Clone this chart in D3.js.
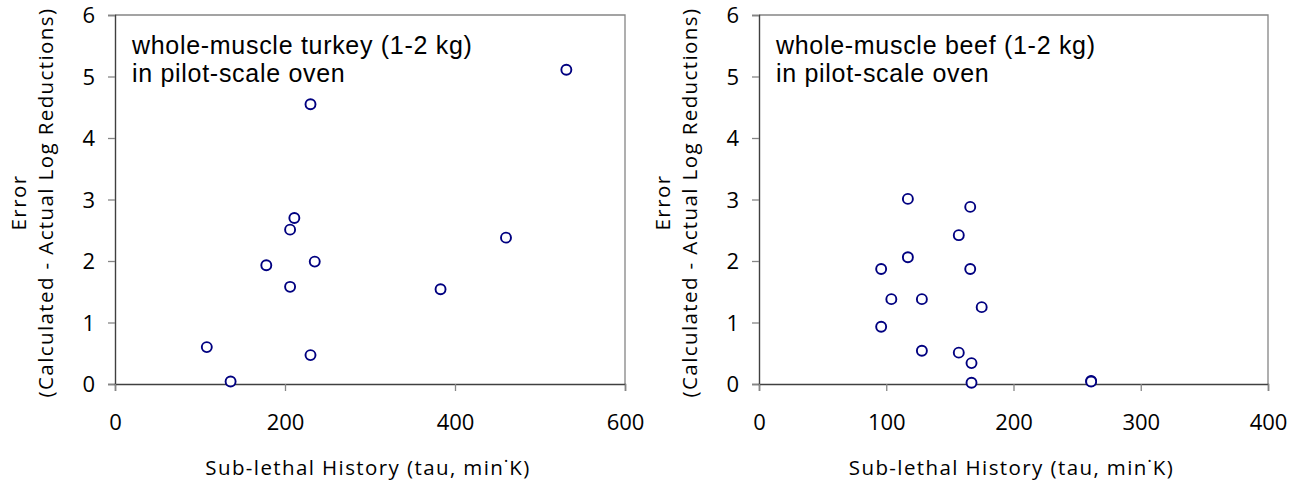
<!DOCTYPE html>
<html><head><meta charset="utf-8">
<script src="https://cdn.jsdelivr.net/npm/d3@7/dist/d3.min.js"></script>
<style>
html,body{margin:0;padding:0;background:#fff;}
svg{display:block;}
.tick text{font-family:"Open Sans",sans-serif;}
</style></head>
<body>
<svg id="chart" width="1304" height="485"></svg>
<script>
// ---- data ----
const turkeyTau = [108, 136, 178, 206, 211, 206, 230, 235, 230, 383, 460, 531];
const turkeyErr = [0.60, 0.04, 1.93, 2.51, 2.70, 1.58, 4.55, 1.99, 0.47, 1.54, 2.38, 5.11];
const beefTau = [117, 166, 157, 117, 96, 166, 104, 128, 175, 96, 128, 157, 167, 167, 261, 261];
const beefErr = [3.01, 2.88, 2.42, 2.06, 1.87, 1.87, 1.38, 1.38, 1.25, 0.93, 0.54, 0.51, 0.34, 0.02, 0.05, 0.04];
const turkeyXTicks = [0, 200, 400, 600];
const beefXTicks = [0, 100, 200, 300, 400];
const yTicks = [0, 1, 2, 3, 4, 5, 6];
const titles = [
  ["whole-muscle turkey (1-2 kg)", "in pilot-scale oven"],
  ["whole-muscle beef (1-2 kg)", "in pilot-scale oven"]
];
const xLabel = "Sub-lethal History (tau, min\u02D9K)";
const yLabel1 = "Error";
const yLabel2 = "(Calculated - Actual Log Reductions)";

const svg = d3.select("#chart");

const panels = [
  {tau: turkeyTau, err: turkeyErr, xmax: 600, xticks: turkeyXTicks, title: titles[0],
   left: 115, right: 625, top: 15, bottom: 384},
  {tau: beefTau, err: beefErr, xmax: 400, xticks: beefXTicks, title: titles[1],
   left: 759, right: 1268, top: 15, bottom: 384}
];

panels.forEach(p => {
  const x = d3.scaleLinear().domain([0, p.xmax]).range([p.left, p.right]);
  const y = d3.scaleLinear().domain([0, 6]).range([p.bottom, p.top]);
  const g = svg.append("g");

  // plot border (top & right)
  g.append("path")
    .attr("d", `M${p.left},${p.top}H${p.right}V${p.bottom}`)
    .attr("fill", "none").attr("stroke", "#858585").attr("stroke-width", 1.3);

  // y axis
  const ya = g.append("g").attr("transform", `translate(${p.left},0)`)
    .call(d3.axisLeft(y).tickValues(yTicks).tickSize(7).tickPadding(13).tickFormat(d3.format("d")));
  ya.select(".domain").attr("stroke", "#404040").attr("stroke-width", 1.4);
  ya.selectAll(".tick line").attr("stroke", "#858585").attr("stroke-width", 1.3);
  ya.selectAll(".tick text").attr("font-size", 22).attr("fill", "#000").attr("dy", "0.36em");

  // x axis
  const xa = g.append("g").attr("transform", `translate(0,${p.bottom})`)
    .call(d3.axisBottom(x).tickValues(p.xticks).tickSize(7).tickPadding(23).tickFormat(d3.format("d")));
  xa.select(".domain").attr("stroke", "#404040").attr("stroke-width", 1.4);
  xa.selectAll(".tick line").attr("stroke", "#858585").attr("stroke-width", 1.3);
  xa.selectAll(".tick text").attr("font-size", 22).attr("fill", "#000");

  // points
  g.append("g").selectAll("circle")
    .data(p.tau.map((t, i) => [t, p.err[i]]))
    .join("circle")
    .attr("cx", d => x(d[0])).attr("cy", d => y(d[1]))
    .attr("r", 5)
    .attr("fill", "#fff").attr("stroke", "#000080").attr("stroke-width", 1.9);

  // panel title
  const t = g.append("text")
    .attr("font-family", "'Liberation Sans', Arial, sans-serif")
    .attr("font-size", 25).attr("letter-spacing", "0.7px").attr("fill", "#000");
  t.append("tspan").attr("x", p.left + 17).attr("y", p.top + 39).text(p.title[0]);
  t.append("tspan").attr("x", p.left + 17).attr("y", p.top + 67).text(p.title[1]);

  // x label
  g.append("text")
    .attr("x", (p.left + p.right) / 2 - 2).attr("y", 475)
    .attr("text-anchor", "middle")
    .attr("font-family", "'Open Sans', sans-serif").attr("font-size", 20.5)
    .attr("letter-spacing", "1.4px").attr("fill", "#000")
    .text(xLabel);

  // y label (two lines)
  const cy = (p.top + p.bottom) / 2 + 3;
  g.append("text")
    .attr("transform", `translate(${p.left - 89},${cy}) rotate(-90)`)
    .attr("text-anchor", "middle")
    .attr("font-family", "'Open Sans', sans-serif").attr("font-size", 20.5)
    .attr("letter-spacing", "1.4px").attr("fill", "#000")
    .text(yLabel1);
  g.append("text")
    .attr("transform", `translate(${p.left - 62},${cy}) rotate(-90)`)
    .attr("text-anchor", "middle")
    .attr("font-family", "'Open Sans', sans-serif").attr("font-size", 20.5)
    .attr("letter-spacing", "1.4px").attr("fill", "#000")
    .text(yLabel2);
});
</script>
</body></html>
